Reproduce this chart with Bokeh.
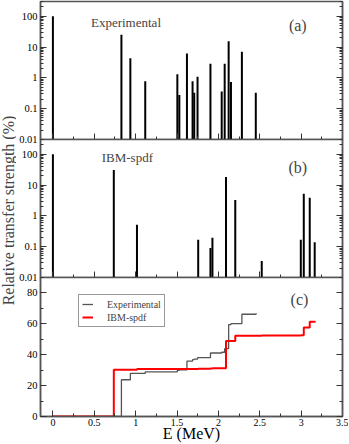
import math
from bokeh.plotting import figure
from bokeh.layouts import row, column
from bokeh.models import (Range1d, LinearAxis, LogAxis, SingleIntervalTicker, LogTicker,
                          NumeralTickFormatter, CustomJSTickFormatter, Label, Legend, LegendItem)
from bokeh.embed import file_html
from bokeh.resources import INLINE

# ---------------- data ----------------
exp_energy = [0.0, 0.828, 0.936, 1.116, 1.504, 1.528, 1.620, 1.688, 1.708, 1.748,
              1.904, 2.040, 2.076, 2.124, 2.152, 2.284, 2.452]
exp_strength = [100, 24.8, 4.35, 0.78, 1.31, 0.28, 6.15, 0.78, 0.33, 1.08,
                2.85, 0.36, 2.85, 15.5, 0.74, 6.97, 0.33]

ibm_energy = [0.0, 0.736, 1.016, 1.756, 1.904, 1.928, 2.092, 2.204, 2.524,
              2.996, 3.032, 3.104, 3.164]
ibm_strength = [100, 30.5, 0.51, 0.168, 0.091, 0.195, 18.1, 3.28, 0.034,
                0.168, 5.25, 3.9, 0.14]

exp_sum_energy = [0.0, 0.828, 0.936, 1.116, 1.504, 1.528, 1.620, 1.688, 1.708, 1.748,
                  1.904, 2.040, 2.076, 2.124, 2.152, 2.284, 2.452, 2.465]
exp_sum = [0.0, 23.8, 27.9, 28.9, 29.9, 30.2, 35.9, 36.8, 37.1, 38.1,
           41.1, 41.6, 43.9, 59.5, 60.1, 66.2, 66.5, 66.5]

ibm_sum_energy = [0.0, 0.736, 1.016, 1.756, 1.904, 1.928, 2.092, 2.204, 2.524,
                  2.996, 3.032, 3.104, 3.164, 3.175]
ibm_sum = [0.0, 30.2, 30.7, 30.9, 31.0, 31.2, 48.9, 52.3, 52.4,
           52.6, 57.6, 61.3, 61.4, 61.4]

log_bottom = 0.01
log_top = 300
# -----------------------------------------------------------------

FONT = "Liberation Serif"

TW = 16          # width of the strip holding the y title
FW = 302
FH = 138
LEFT = 23
RIGHT = 7
OVER = 6
BOTTOM = 28
AX_COL = "#555555"
TICK_COL = "#333333"

xr = Range1d(-0.15, 3.5)
blank = CustomJSTickFormatter(code="return ''")


def style_common(p):
    p.grid.visible = False
    p.outline_line_color = AX_COL
    p.outline_line_width = 1.5
    p.background_fill_color = "white"
    p.border_fill_alpha = 0


def style_axis(ax, label_size):
    ax.axis_line_color = AX_COL
    ax.axis_line_width = 1.5
    ax.major_tick_line_color = TICK_COL
    ax.minor_tick_line_color = TICK_COL
    ax.major_tick_in = 6
    ax.major_tick_out = 0
    ax.minor_tick_in = 3
    ax.minor_tick_out = 0
    ax.major_label_text_font = FONT
    ax.major_label_text_font_size = label_size
    ax.major_label_text_color = "black"
    ax.major_label_standoff = 3


def log_panel(energy, strength, top_border, margin, name_text, name_x, name_y, tag, tag_y):
    p = figure(x_range=xr, y_range=Range1d(log_bottom, log_top), y_axis_type="log",
               frame_width=FW, frame_height=FH, min_border_left=LEFT, min_border_right=RIGHT,
               min_border_top=top_border, min_border_bottom=OVER,
               toolbar_location=None, output_backend="svg")
    p.margin = margin
    style_common(p)
    p.segment(x0=energy, y0=[log_bottom] * len(energy), x1=energy, y1=strength,
              line_color="black", line_width=2)
    xa = p.xaxis[0]
    xa.ticker = SingleIntervalTicker(interval=0.5, num_minor_ticks=2)
    style_axis(xa, "0px")
    xa.formatter = blank
    xa.major_label_standoff = 0
    ya = p.yaxis[0]
    ya.ticker = LogTicker(num_minor_ticks=10)
    ya.formatter = NumeralTickFormatter(format="0.[00]")
    style_axis(ya, "10.5px")
    ra = LogAxis(ticker=LogTicker(num_minor_ticks=10), formatter=blank)
    style_axis(ra, "0px")
    ra.major_label_standoff = 0
    p.add_layout(ra, "right")
    p.add_layout(Label(x=name_x, y=name_y, text=name_text, text_font=FONT,
                       text_font_size="13px", text_baseline="middle", text_align="left"))
    p.add_layout(Label(x=2.96, y=tag_y, text=tag, text_font=FONT,
                       text_font_size="16px", text_baseline="middle", text_align="center"))
    return p


fa = log_panel(exp_energy, exp_strength, 1, (0, 0, 0, 0), "Experimental", 0.46, 62, "(a)", 50)
fb = log_panel(ibm_energy, ibm_strength, 0, (-OVER, 0, 0, 0), "IBM-spdf", 0.59, 80, "(b)", 36)

fc = figure(x_range=xr, y_range=Range1d(0, 90), frame_width=FW, frame_height=FH + 1,
            min_border_left=LEFT, min_border_right=RIGHT, min_border_top=0,
            min_border_bottom=BOTTOM, toolbar_location=None, output_backend="svg")
fc.margin = (-OVER, 0, 0, 0)
style_common(fc)
r_exp = fc.step(exp_sum_energy, exp_sum, mode="after", line_color="#555555", line_width=1.3)
r_ibm = fc.step(ibm_sum_energy, ibm_sum, mode="after", line_color="red", line_width=2)
xa = fc.xaxis[0]
xa.ticker = SingleIntervalTicker(interval=0.5, num_minor_ticks=2)
xa.formatter = NumeralTickFormatter(format="0.[0]")
style_axis(xa, "10px")
xa.major_label_standoff = 2
xa.axis_label = "E (MeV)"
xa.axis_label_text_font = FONT
xa.axis_label_text_font_size = "16px"
xa.axis_label_text_font_style = "normal"
xa.axis_label_text_color = "black"
xa.axis_label_standoff = -4
ya = fc.yaxis[0]
ya.ticker = SingleIntervalTicker(interval=20, num_minor_ticks=2)
style_axis(ya, "10.5px")
ra = LinearAxis(ticker=SingleIntervalTicker(interval=20, num_minor_ticks=2), formatter=blank)
style_axis(ra, "0px")
ra.major_label_standoff = 0
fc.add_layout(ra, "right")
legend = Legend(items=[LegendItem(label="Experimental", renderers=[r_exp]),
                       LegendItem(label="IBM-spdf", renderers=[r_ibm])],
                location=(38, 89), margin=0, padding=3, spacing=1,
                glyph_width=11, glyph_height=12, label_standoff=14, label_height=12,
                label_text_font=FONT, label_text_font_size="10px",
                border_line_color="#333333", border_line_width=1,
                background_fill_color="white", background_fill_alpha=1)
fc.add_layout(legend)
fc.add_layout(Label(x=2.98, y=75.5, text="(c)", text_font=FONT, text_font_size="16px",
                    text_baseline="middle", text_align="center"))

TOTAL_H = 1 + 3 * FH + 1 + BOTTOM
tf = figure(width=TW, height=TOTAL_H, x_range=Range1d(0, 1), y_range=Range1d(0, 1),
            x_axis_location=None, y_axis_location=None,
            min_border=0, toolbar_location=None, output_backend="svg")
tf.grid.visible = False
tf.outline_line_color = None
tf.add_layout(Label(x=0.47, y=(TOTAL_H - 210) / TOTAL_H, text="Relative transfer strength (%)",
                    angle=math.pi / 2, text_align="center", text_baseline="middle",
                    text_font=FONT, text_font_size="16px"))

layout = row(tf, column(fa, fb, fc))
open("out.html", "w").write(file_html(layout, INLINE))
